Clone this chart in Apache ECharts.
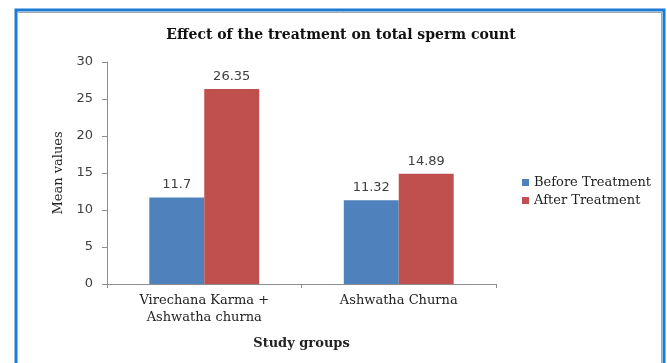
<!DOCTYPE html>
<html>
<head>
<meta charset="utf-8">
<script src="https://cdn.jsdelivr.net/npm/echarts@6/dist/echarts.min.js"></script>
<style>
  html, body { margin: 0; padding: 0; background: #fff; }
  #chart { width: 667px; height: 363px; }
</style>
</head>
<body>
<div id="chart"></div>
<script>
// Study groups and mean sperm counts before/after treatment
const categories = ['Virechana Karma +\nAshwatha churna', 'Ashwatha Churna'];
const beforeTreatment = [11.7, 11.32];
const afterTreatment = [26.35, 14.89];
const yTicks = { min: 0, max: 30, interval: 5 };

const serif = '"DejaVu Serif", "Liberation Serif", serif';
const sans = '"DejaVu Sans", Verdana, sans-serif';

const chart = echarts.init(document.getElementById('chart'), null, { renderer: 'canvas' });

const valueLabel = {
  show: true,
  position: 'top',
  distance: 6,
  fontFamily: sans,
  fontSize: 13,
  color: '#404040'
};

chart.setOption({
  animation: false,
  backgroundColor: '#fff',
  title: {
    text: 'Effect of the treatment on total sperm count',
    left: 336,
    top: 23,
    textAlign: 'center',
    textStyle: { fontFamily: serif, fontWeight: 'bold', fontSize: 14, color: '#111' }
  },
  legend: {
    orient: 'vertical',
    left: 517,
    top: 171,
    itemWidth: 7,
    itemHeight: 7,
    itemGap: 5,
    icon: 'rect',
    textStyle: { fontFamily: serif, fontSize: 13, color: '#222' },
    data: ['Before Treatment', 'After Treatment']
  },
  grid: { left: 107, right: 171, top: 62, bottom: 79, containLabel: false },
  xAxis: {
    type: 'category',
    data: categories,
    name: 'Study groups',
    nameLocation: 'middle',
    nameGap: 53,
    nameTextStyle: { fontFamily: serif, fontWeight: 'bold', fontSize: 13, color: '#222' },
    axisLine: { lineStyle: { color: '#8c8c8c' } },
    axisTick: { show: true, length: 4, alignWithLabel: false, lineStyle: { color: '#8c8c8c' } },
    axisLabel: { fontFamily: serif, fontSize: 13, color: '#222', lineHeight: 17, margin: 8 }
  },
  yAxis: {
    type: 'value',
    min: yTicks.min,
    max: yTicks.max,
    interval: yTicks.interval,
    name: 'Mean values',
    nameLocation: 'middle',
    nameGap: 42,
    nameTextStyle: { fontFamily: serif, fontSize: 13, color: '#222' },
    splitLine: { show: false },
    axisLine: { show: true, lineStyle: { color: '#8c8c8c' } },
    axisTick: { show: true, length: 5, lineStyle: { color: '#8c8c8c' } },
    axisLabel: { fontFamily: sans, fontSize: 13, color: '#404040', margin: 14 }
  },
  series: [
    {
      name: 'Before Treatment',
      type: 'bar',
      data: beforeTreatment,
      itemStyle: { color: '#4F81BD' },
      barGap: '0%',
      barCategoryGap: '43.5%',
      label: valueLabel
    },
    {
      name: 'After Treatment',
      type: 'bar',
      data: afterTreatment,
      itemStyle: { color: '#C0504D' },
      label: valueLabel
    }
  ],
  graphic: [
    {
      type: 'rect',
      shape: { x: 16, y: 10, width: 648, height: 370 },
      style: { fill: null, stroke: '#1c7bd4', lineWidth: 3 },
      silent: true
    },
    {
      type: 'polyline',
      shape: { points: [[18, 12.5], [661.5, 12.5], [661.5, 363]] },
      style: { fill: null, stroke: '#a8a8a8', lineWidth: 1 },
      silent: true
    }
  ]
});
</script>
</body>
</html>
